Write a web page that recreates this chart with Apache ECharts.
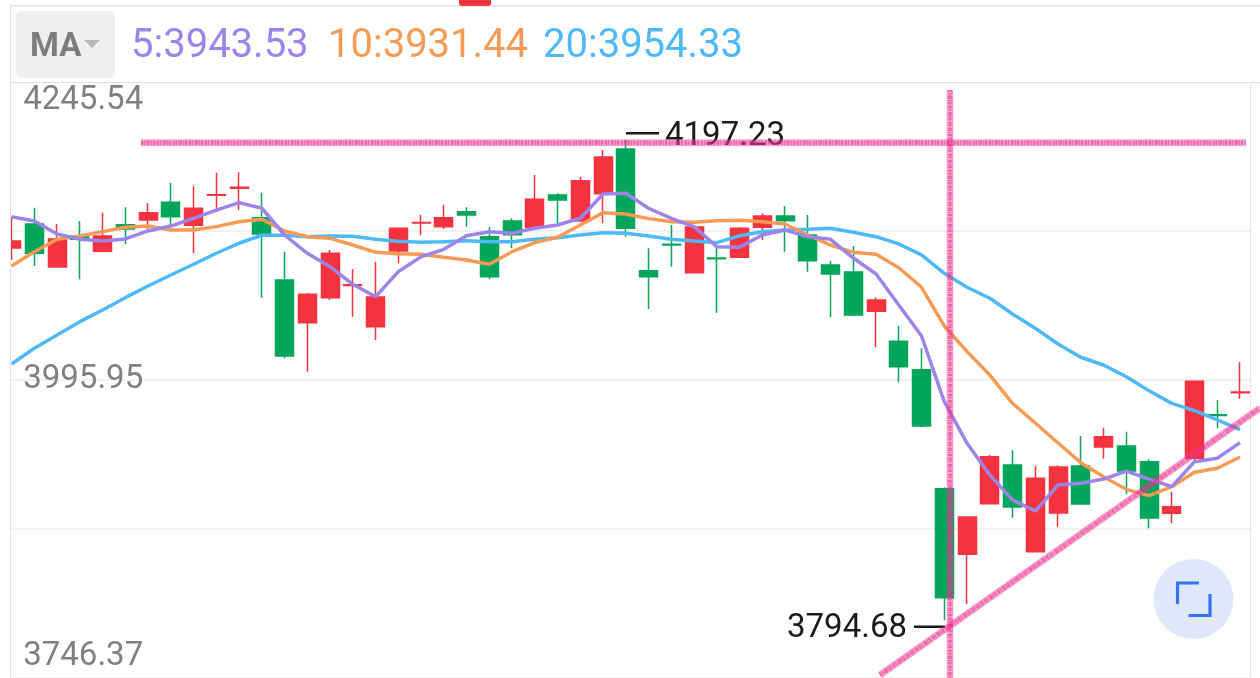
<!DOCTYPE html>
<html>
<head>
<meta charset="utf-8">
<style>
html, body { margin: 0; padding: 0; background: #fff; }
#chart { width: 1260px; height: 678px; }
</style>
<script src="https://cdn.jsdelivr.net/npm/echarts@6/dist/echarts.min.js"></script>
</head>
<body>
<div id="chart"></div>
<script>
// [open, close, low, high]
var candles = [
	[4106.5, 4112.4, 4096.5, 4132.5], [4126.6, 4102.1, 4091.4, 4140.3], [4090.6, 4114.1, 4090.0, 4126.6],
	[4116.6, 4113.8, 4080.3, 4129.1], [4103.8, 4116.6, 4103.4, 4136.1], [4126.0, 4122.4, 4109.9, 4140.6],
	[4130.0, 4136.1, 4122.4, 4144.2], [4144.8, 4132.7, 4125.8, 4161.0], [4125.5, 4139.8, 4102.1, 4158.7],
	[4150.6, 4151.1, 4136.7, 4169.6], [4156.5, 4157.4, 4138.3, 4169.9], [4131.9, 4118.2, 4064.9, 4152.8],
	[4079.7, 4016.1, 4014.1, 4103.4], [4044.0, 4067.7, 4002.9, 4069.1], [4064.9, 4102.1, 4063.0, 4104.8],
	[4075.2, 4075.7, 4049.0, 4088.9], [4040.6, 4065.5, 4029.5, 4095.0], [4104.0, 4123.0, 4093.7, 4123.3],
	[4127.4, 4127.9, 4117.4, 4134.4], [4124.4, 4131.9, 4122.4, 4142.5], [4136.9, 4134.2, 4124.4, 4140.6],
	[4116.0, 4082.5, 4080.3, 4123.9], [4129.1, 4117.7, 4106.3, 4131.4], [4123.9, 4147.3, 4123.9, 4167.7],
	[4150.9, 4146.7, 4127.2, 4152.3], [4129.1, 4162.9, 4129.1, 4166.2], [4152.0, 4182.7, 4127.2, 4188.6],
	[4189.4, 4123.0, 4116.0, 4197.23], [4087.5, 4082.5, 4055.4, 4106.3], [4109.6, 4109.1, 4090.9, 4125.8],
	[4085.8, 4124.1, 4085.8, 4125.8], [4098.2, 4097.6, 4052.3, 4107.6], [4098.7, 4123.0, 4098.7, 4123.9],
	[4123.9, 4133.3, 4113.2, 4135.6], [4133.3, 4129.4, 4103.4, 4141.7], [4117.4, 4095.9, 4086.7, 4134.2],
	[4092.3, 4084.7, 4048.5, 4095.9], [4086.4, 4050.4, 4049.6, 4108.2], [4053.5, 4063.0, 4023.4, 4065.2],
	[4028.4, 4007.1, 3994.0, 4041.4], [4004.6, 3957.4, 3956.3, 4022.5], [3904.9, 3813.6, 3794.68, 3906.1],
	[3850.0, 3881.2, 3808.4, 3881.2], [3892.4, 3931.7, 3891.9, 3933.1], [3924.8, 3889.6, 3880.6, 3937.3],
	[3852.2, 3913.6, 3852.2, 3924.2], [3884.6, 3923.1, 3873.1, 3924.5], [3923.9, 3892.1, 3891.7, 3949.1],
	[3939.8, 3948.5, 3930.0, 3956.0], [3940.7, 3919.7, 3900.2, 3952.7], [3927.5, 3880.4, 3871.8, 3929.5],
	[3884.3, 3889.8, 3875.9, 3902.4], [3930.4, 3994.9, 3927.3, 3995.1], [3966.8, 3966.3, 3955.8, 3979.2],
	[3985.3, 3985.8, 3980.1, 4010.8]
];
var ma5 = [4132.7, 4129.1, 4118.2, 4113.8, 4112.4, 4114.1, 4120.8, 4124.9, 4131.4, 4138.3, 4144.5,
	4139.8, 4117.4, 4102.1, 4090.9, 4076.1, 4065.7, 4086.7, 4099.2, 4105.4, 4116.8, 4120.2,
	4118.8, 4123.0, 4125.8, 4131.4, 4151.7, 4152.3, 4139.8, 4131.4, 4124.4, 4107.6, 4107.1,
	4117.4, 4121.6, 4116.0, 4113.8, 4098.1, 4084.7, 4058.8, 4032.8, 3977.8, 3942.9, 3916.4,
	3895.5, 3886.2, 3908.0, 3909.4, 3913.0, 3919.7, 3913.0, 3906.6, 3927.5, 3930.4, 3943.53];
var ma10 = [4091.4, 4103.4, 4113.8, 4116.6, 4120.2, 4123.9, 4124.9, 4121.6, 4121.6, 4124.4, 4128.5,
	4130.6, 4120.8, 4116.0, 4114.6, 4109.0, 4102.9, 4101.7, 4101.2, 4098.7, 4096.5, 4092.9,
	4103.4, 4111.0, 4115.5, 4125.8, 4136.1, 4135.0, 4131.1, 4128.5, 4128.0, 4129.4, 4129.7,
	4128.5, 4126.6, 4117.4, 4109.0, 4102.9, 4101.2, 4090.0, 4073.6, 4041.2, 4019.7, 4000.1,
	3976.4, 3959.9, 3943.2, 3926.7, 3915.0, 3904.4, 3899.1, 3906.6, 3918.7, 3922.0, 3931.44];
var ma20 = [4009.4, 4022.5, 4033.7, 4044.8, 4054.6, 4064.9, 4074.7, 4083.9, 4092.9, 4102.1, 4110.5,
	4117.2, 4117.2, 4116.0, 4116.6, 4116.3, 4113.8, 4112.1, 4111.3, 4111.8, 4112.6, 4111.8,
	4111.8, 4113.8, 4115.1, 4117.4, 4119.3, 4118.8, 4116.6, 4113.8, 4112.4, 4111.0, 4116.8,
	4120.2, 4121.6, 4122.2, 4123.0, 4119.7, 4116.0, 4109.9, 4100.7, 4085.3, 4073.6, 4064.4,
	4051.2, 4039.3, 4026.1, 4015.0, 4008.5, 3998.7, 3987.0, 3976.4, 3970.3, 3962.5, 3954.33];
var categories = candles.map(function (c, i) { return String(i + 1); });
var gridTicks = [3746.37, 3871.16, 3995.95, 4120.74, 4245.54];
var labelTicks = [3746.37, 3995.95, 4245.54];
var maLabels = ['5:3943.53', '10:3931.44', '20:3954.33'];
var highLabel = '4197.23';
var lowLabel = '3794.68';

var purple = '#9d84e8', orange = '#f59b55', blue = '#4eb9f6';
var red = '#f5333f', green = '#03a65a';
var font = 'Roboto';

function maSeries(name, values, color) {
	return {
		name: name, type: 'line', data: values, symbol: 'none', z: 5,
		lineStyle: { color: color, width: 3.5 }
	};
}

// the hand drawn marker strokes, a soft band with rough dashes on top
function scribble(x1, y1, x2, y2) {
	var shape = { x1: x1, y1: y1, x2: x2, y2: y2 };
	return [
		{ type: 'line', z: 60, silent: true, shape: shape,
			style: { stroke: 'rgba(238,60,150,0.42)', lineWidth: 6.5, shadowBlur: 1.5, shadowColor: 'rgba(238,60,150,0.35)' } },
		{ type: 'line', z: 61, silent: true, shape: shape,
			style: { stroke: 'rgba(232,40,140,0.38)', lineWidth: 5, lineDash: [2, 1, 1, 2, 3, 1, 1, 1, 2, 2] } },
		{ type: 'line', z: 62, silent: true, shape: shape,
			style: { stroke: 'rgba(232,40,140,0.3)', lineWidth: 2, lineDash: [1, 3, 2, 1, 1, 2] } }
	];
}

function label(text, x, y, color, size, weight) {
	return { type: 'text', z: 55, silent: true, x: x, y: y,
		style: { text: text, fill: color, font: (weight || 'normal') + ' ' + size + 'px ' + font, textVerticalAlign: 'middle' } };
}

var graphics = [
	// left strip where the first candle is cut off
	{ type: 'rect', z: 50, silent: true, shape: { x: 0, y: 0, width: 10, height: 678 }, style: { fill: '#fff' } },
	{ type: 'rect', z: 50, silent: true, shape: { x: 10, y: 5, width: 1250, height: 77 }, style: { fill: '#fff' } },
	{ type: 'rect', z: 51, silent: true, shape: { x: 10, y: 5, width: 1250, height: 1.5 }, style: { fill: '#e2e2e2' } },
	{ type: 'rect', z: 51, silent: true, shape: { x: 10, y: 82, width: 1250, height: 1 }, style: { fill: '#dedede' } },
	{ type: 'rect', z: 51, silent: true, shape: { x: 10, y: 5, width: 1, height: 673 }, style: { fill: '#e2e2e2' } },
	{ type: 'rect', z: 51, silent: true, shape: { x: 1250, y: 82, width: 1, height: 596 }, style: { fill: '#e6e6e6' } },
	{ type: 'rect', z: 52, silent: true, shape: { x: 459, y: 0, width: 32, height: 6, r: [0, 0, 3, 3] }, style: { fill: red } },
	// MA selector
	{ type: 'rect', z: 52, silent: true, shape: { x: 16, y: 11, width: 99, height: 67, r: 5 }, style: { fill: '#efefef' } },
	label('MA', 30, 48, '#7d7d7d', 33, 'bold'),
	{ type: 'polygon', z: 55, silent: true, shape: { points: [[84, 40], [100, 40], [92, 48]] }, style: { fill: '#b8b8b8' } },
	label(maLabels[0], 131, 47, purple, 40),
	label(maLabels[1], 328, 47, orange, 40),
	label(maLabels[2], 543, 47, blue, 40),
	// high / low markers
	{ type: 'rect', z: 55, silent: true, shape: { x: 626, y: 132, width: 33, height: 2.5 }, style: { fill: '#1a1a1a' } },
	label(highLabel, 665, 137, '#1a1a1a', 33),
	{ type: 'rect', z: 55, silent: true, shape: { x: 914, y: 625.5, width: 31, height: 2.5 }, style: { fill: '#1a1a1a' } },
	label(lowLabel, 787, 629, '#1a1a1a', 33),
	// expand button
	{ type: 'circle', z: 55, silent: true, shape: { cx: 1193.5, cy: 599, r: 40 }, style: { fill: '#dfe8fb' } },
	{ type: 'polyline', z: 56, silent: true, shape: { points: [[1177.5, 604], [1177.5, 583], [1199, 583]] }, style: { stroke: '#2f74f6', lineWidth: 3.2, fill: null } },
	{ type: 'polyline', z: 56, silent: true, shape: { points: [[1210, 594], [1210, 615.5], [1188.5, 615.5]] }, style: { stroke: '#2f74f6', lineWidth: 3.2, fill: null } }
].concat(
	scribble(141, 142.7, 1246, 142.7),
	scribble(950, 90, 950, 678),
	scribble(880, 675, 1260, 408)
);

var myChart = echarts.init(document.getElementById('chart'));

var option = {
	animation: false,
	backgroundColor: '#fff',
	grid: { left: 0.2, right: 8.6, top: 82, bottom: 0 },
	xAxis: {
		type: 'category', data: categories, boundaryGap: true,
		axisLine: { show: false }, axisTick: { show: false }, axisLabel: { show: false }, splitLine: { show: false }
	},
	yAxis: {
		type: 'value', min: 3746.37, max: 4245.54,
		axisLine: { show: false },
		axisTick: { show: false, customValues: gridTicks },
		splitLine: { show: true, lineStyle: { color: '#ececec', width: 1.5 } },
		axisLabel: {
			inside: true, margin: 23, customValues: labelTicks,
			color: '#808080', fontFamily: font, fontSize: 33, lineHeight: 30,
			padding: [4, 0, 6, 0], verticalAlign: 'middle',
			verticalAlignMinLabel: 'bottom', verticalAlignMaxLabel: 'top',
			formatter: function (v) { return v.toFixed(2); }
		}
	},
	series: [
		{
			name: 'K', type: 'candlestick', data: candles, barWidth: 18.5, z: 2,
			itemStyle: { color: red, color0: green, borderColor: red, borderColor0: green, borderWidth: 1.5 }
		},
		maSeries('MA20', ma20, blue),
		maSeries('MA10', ma10, orange),
		maSeries('MA5', ma5, purple)
	],
	graphic: { elements: graphics }
};

myChart.setOption(option);
</script>
</body>
</html>
